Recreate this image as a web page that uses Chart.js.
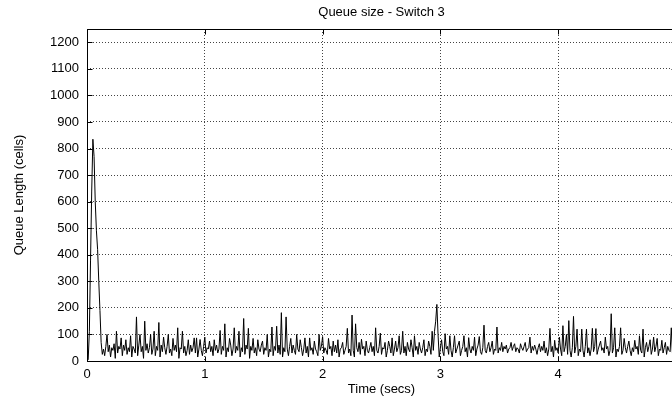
<!DOCTYPE html>
<html>
<head>
<meta charset="utf-8">
<title>Queue size - Switch 3</title>
<script src="https://cdn.jsdelivr.net/npm/chart.js@4.4.1/dist/chart.umd.min.js"></script>
<style>
  html, body { margin: 0; padding: 0; overflow: hidden; background: #fff; }
  #wrap { position: relative; width: 680px; height: 400px; }
</style>
</head>
<body>
<div id="wrap"><canvas id="chart"></canvas></div>
<script>
// Queue length samples (cells), one every 10 ms
const sampleStep = 0.01;
const queueCells = [
  0, 5, 110, 380, 640, 835, 770, 600, 490, 420, 300, 190, 70, 25, 45, 20, 55, 100, 35, 60,
  15, 50, 40, 65, 10, 112, 30, 55, 45, 87, 20, 60, 40, 80, 25, 50, 35, 95, 15, 55,
  45, 30, 166, 20, 60, 100, 35, 55, 10, 150, 40, 65, 30, 50, 100, 25, 45, 112, 20, 55,
  40, 145, 15, 60, 35, 90, 50, 25, 55, 100, 30, 45, 20, 85, 40, 60, 35, 125, 10, 50,
  45, 112, 30, 55, 20, 40, 80, 25, 60, 35, 50, 87, 30, 87, 15, 45, 81, 40, 20, 55,
  90, 30, 50, 45, 75, 35, 55, 20, 80, 40, 60, 30, 45, 115, 25, 55, 40, 140, 15, 50,
  35, 85, 60, 20, 45, 125, 30, 55, 40, 112, 15, 50, 35, 160, 25, 60, 45, 123, 10, 55,
  40, 85, 30, 50, 20, 80, 45, 35, 60, 75, 25, 50, 40, 100, 15, 45, 35, 128, 20, 55,
  40, 131, 30, 60, 25, 182, 15, 50, 35, 166, 45, 20, 55, 85, 30, 60, 40, 25, 100, 45,
  35, 80, 50, 20, 45, 87, 30, 55, 15, 87, 40, 50, 25, 75, 45, 35, 20, 100, 40, 55,
  92, 30, 50, 40, 25, 85, 45, 55, 20, 75, 35, 60, 30, 80, 15, 45, 50, 70, 25, 40,
  55, 123, 30, 45, 20, 173, 40, 15, 140, 50, 35, 70, 25, 82, 45, 55, 20, 75, 40, 30,
  50, 70, 35, 55, 20, 125, 40, 30, 55, 105, 25, 50, 45, 70, 15, 40, 75, 55, 30, 87,
  20, 45, 75, 35, 50, 95, 25, 40, 112, 30, 55, 20, 70, 45, 35, 80, 50, 15, 95, 40,
  55, 25, 70, 45, 30, 50, 80, 20, 45, 35, 75, 55, 25, 112, 40, 112, 150, 213, 100, 15,
  50, 80, 35, 20, 103, 45, 55, 25, 95, 40, 15, 50, 95, 30, 45, 60, 75, 20, 40, 55,
  95, 35, 50, 15, 88, 45, 30, 55, 40, 90, 20, 45, 60, 92, 35, 25, 50, 135, 40, 30,
  55, 70, 35, 50, 75, 25, 45, 40, 128, 30, 50, 40, 70, 35, 55, 45, 60, 30, 45, 50,
  70, 40, 55, 65, 35, 50, 45, 30, 65, 50, 40, 55, 70, 35, 45, 50, 90, 30, 55, 40,
  60, 45, 25, 50, 65, 35, 55, 40, 75, 30, 50, 20, 45, 123, 35, 55, 15, 78, 40, 50,
  30, 90, 45, 20, 133, 35, 55, 100, 25, 152, 40, 15, 50, 168, 30, 55, 120, 20, 45, 35,
  120, 40, 15, 55, 120, 30, 50, 20, 45, 123, 35, 55, 122, 25, 45, 60, 75, 40, 50, 30,
  90, 45, 55, 20, 40, 178, 30, 50, 125, 15, 45, 35, 55, 125, 25, 40, 85, 50, 30, 55,
  75, 40, 20, 50, 35, 78, 45, 55, 25, 95, 40, 30, 120, 15, 50, 70, 35, 55, 80, 25,
  45, 90, 35, 55, 85, 20, 45, 40, 78, 30, 50, 70, 25, 55, 40, 35, 125, 30, 45, 70
];

// Axis ranges and tick positions
const xRange = [0, 5];
const yRange = [0, 1250];
const xTicks = [0, 1, 2, 3, 4];
const yTicks = [0, 100, 200, 300, 400, 500, 600, 700, 800, 900, 1000, 1100, 1200];

const points = queueCells.map((v, i) => ({ x: +(i * sampleStep).toFixed(2), y: v }));

const FONT = { family: "'Liberation Sans', Arial, Helvetica, sans-serif", size: 13 };

// Solid frame around the plot with short inward tick marks on all four sides
const framePlugin = {
  id: 'frame',
  afterDatasetsDraw(chart) {
    const { ctx, chartArea: a, scales: { x, y } } = chart;
    const L = Math.round(a.left) + 0.5, R = Math.round(a.right) + 0.5;
    const T = Math.round(a.top) + 0.5, B = Math.round(a.bottom) + 0.5;
    const len = 5;
    ctx.save();
    ctx.setLineDash([]);
    ctx.strokeStyle = '#000';
    ctx.lineWidth = 1;
    ctx.beginPath();
    ctx.rect(L, T, R - L, B - T);
    yTicks.forEach(v => {
      const py = Math.round(y.getPixelForValue(v)) + 0.5;
      ctx.moveTo(L, py); ctx.lineTo(L + len, py);
      ctx.moveTo(R, py); ctx.lineTo(R - len, py);
    });
    xTicks.forEach(v => {
      const px = Math.round(x.getPixelForValue(v)) + 0.5;
      ctx.moveTo(px, B); ctx.lineTo(px, B - len);
      ctx.moveTo(px, T); ctx.lineTo(px, T + len);
    });
    ctx.stroke();
    ctx.restore();
  }
};

new Chart(document.getElementById('chart'), {
  type: 'line',
  data: {
    datasets: [{
      data: points,
      borderColor: '#000',
      borderWidth: 1,
      pointRadius: 0,
      tension: 0,
      fill: false
    }]
  },
  options: {
    responsive: true,
    maintainAspectRatio: false,
    animation: false,
    devicePixelRatio: 1,
    layout: { padding: { left: 0, right: 4, top: 0, bottom: 0 } },
    plugins: {
      legend: { display: false },
      tooltip: { enabled: false },
      title: {
        display: true,
        text: 'Queue size - Switch 3',
        fullSize: false,
        color: '#000',
        font: { ...FONT, weight: 'normal' },
        padding: { top: 4.4, bottom: 9 }
      }
    },
    scales: {
      x: {
        type: 'linear',
        min: xRange[0],
        max: xRange[1],
        afterBuildTicks: s => { s.ticks = xTicks.map(v => ({ value: v })); },
        afterFit: s => { s.height = 39; },
        grid: { color: '#444', lineWidth: 1, drawTicks: false },
        border: { display: false, dash: [1, 2] },
        ticks: { color: '#000', font: FONT, padding: 6, maxRotation: 0, autoSkip: false,
                 callback: v => String(v) },
        title: { display: true, text: 'Time (secs)', color: '#000', font: FONT,
                 padding: { top: 0, bottom: 3 } }
      },
      y: {
        type: 'linear',
        min: yRange[0],
        max: yRange[1],
        afterBuildTicks: s => { s.ticks = yTicks.map(v => ({ value: v })); },
        afterFit: s => { s.width = 87; },
        grid: { color: '#444', lineWidth: 1, drawTicks: false },
        border: { display: false, dash: [1, 2] },
        ticks: { color: '#000', font: FONT, padding: 8, autoSkip: false,
                 callback: v => String(v) },
        title: { display: true, text: 'Queue Length (cells)', color: '#000', font: FONT,
                 padding: { top: 12, bottom: 0 } }
      }
    }
  },
  plugins: [framePlugin]
});
</script>
</body>
</html>
